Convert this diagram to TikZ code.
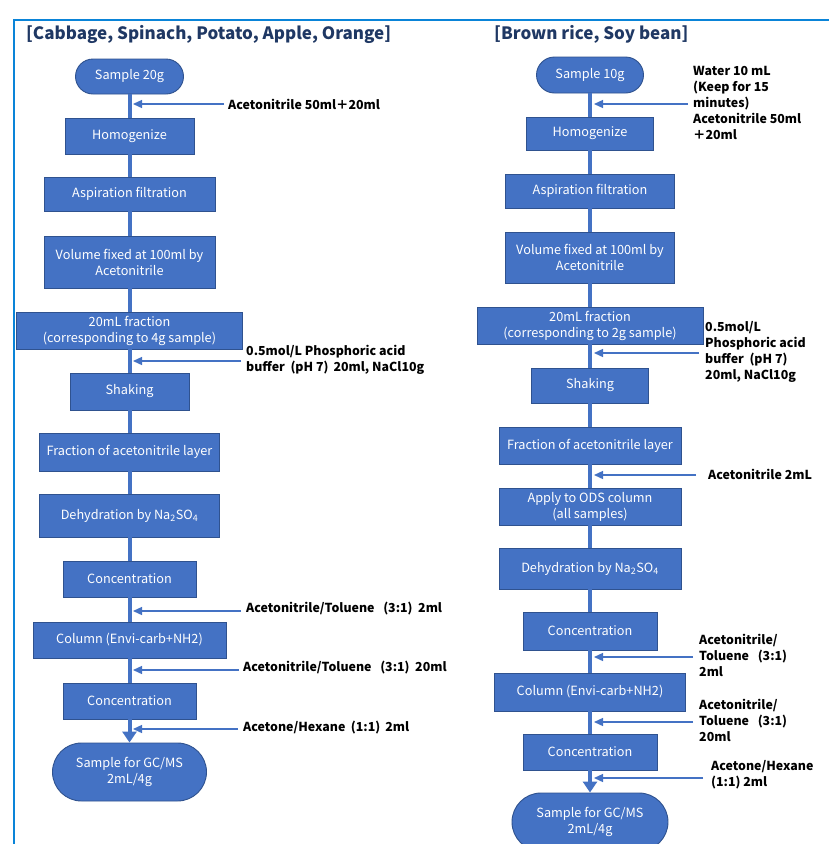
\documentclass[tikz,border=0pt]{standalone}
\usepackage{fontspec}
\setmainfont{Noto Sans CJK JP}
\usetikzlibrary{arrows.meta}
\definecolor{boxfill}{HTML}{4472C4}
\definecolor{boxline}{HTML}{2F528F}
\definecolor{framec}{HTML}{0A84D8}
\definecolor{titlec}{HTML}{1F3864}
\tikzset{
  proc/.style={rectangle, fill=boxfill, draw=boxline, line width=0.9pt, text=white,
    font=\fontsize{12.7}{16}\selectfont, align=center, inner sep=0pt},
  term/.style={proc, rounded corners=#1},
  mainln/.style={draw=boxfill, line width=4pt},
  sideln/.style={draw=boxfill, line width=1.3pt, -{Triangle[width=8pt,length=9pt]}},
  lab/.style={font=\bfseries\fontsize{12.4}{16}\selectfont, anchor=west, align=left, inner sep=0pt, text=black},
  ttl/.style={font=\bfseries\fontsize{17}{22}\selectfont, text=titlec, anchor=west, inner sep=0pt},
}
\begin{document}
\begin{tikzpicture}[x=1pt,y=-1pt]
\useasboundingbox (0,0) rectangle (828,844);
\fill[white] (0,0) rectangle (828,844);
% frame
\draw[framec, line width=2.5pt] (14,850) -- (14,20) -- (830,20);
% titles
\node[ttl] (t1) at (26,34) {[Cabbage, Spinach, Potato, Apple, Orange]};
\node[ttl] (t2) at (494,34) {[Brown rice, Soy bean]};

% ---------- left column ----------
\node[term=17.5pt, minimum width=108, minimum height=35] (L1) at (129.5,76.5) {Sample 20g};
\node[proc, minimum width=129, minimum height=36] (L2) at (129.5,136) {Homogenize};
\node[proc, minimum width=171, minimum height=34] (L3) at (129.5,194) {Aspiration filtration};
\node[proc, minimum width=171, minimum height=52] (L4) at (129.5,262) {Volume fixed at 100ml by\\Acetonitrile};
\node[proc, minimum width=226, minimum height=37] (L5) at (129.5,330.5) {20mL fraction\\(corresponding to 4g sample)};
\node[proc, minimum width=119, minimum height=37] (L6) at (129.5,391.5) {Shaking};
\node[proc, minimum width=180, minimum height=38] (L7) at (129.5,452) {Fraction of acetonitrile layer};
\node[proc, minimum width=180, minimum height=43] (L8) at (129.5,515.5) {Dehydration by Na\textsubscript{2}SO\textsubscript{4}};
\node[proc, minimum width=133, minimum height=36] (L9) at (129.5,579) {Concentration};
\node[proc, minimum width=193, minimum height=36] (L10) at (129.5,640) {Column (Envi-carb+NH2)};
\node[proc, minimum width=133, minimum height=36] (L11) at (129.5,701) {Concentration};
\node[term=29pt, minimum width=154, minimum height=58] (L12) at (129.5,772) {Sample for GC/MS\\2mL/4g};

\foreach \a/\b in {L1/L2,L2/L3,L3/L4,L4/L5,L5/L6,L6/L7,L7/L8,L8/L9,L9/L10,L10/L11}
  \draw[mainln] (\a) -- (\b);
\draw[mainln, -{Triangle[width=14pt,length=11pt]}] (L11) -- (L12);

\coordinate (la1s) at (224,104); \coordinate (la1e) at (133,104);
\coordinate (la2s) at (241,361); \coordinate (la2e) at (133,361);
\coordinate (la3s) at (241,611); \coordinate (la3e) at (133,611);
\coordinate (la4s) at (239,670); \coordinate (la4e) at (133,670);
\coordinate (la5s) at (238,729); \coordinate (la5e) at (133,729);
\foreach \i in {1,...,5} \draw[sideln] (la\i s) -- (la\i e);

\node[lab] (ll1) at (228,104) {Acetonitrile 50ml＋20ml};
\node[lab] (ll2) at (246,360) {0.5mol/L Phosphoric acid\\buffer\hspace{0.45em}(pH 7)\hspace{0.4em}20ml, NaCl10g};
\node[lab] (ll3) at (246,609) {Acetonitrile/Toluene\hspace{0.7em}(3:1)\hspace{0.45em}2ml};
\node[lab] (ll4) at (243,668) {Acetonitrile/Toluene\hspace{0.7em}(3:1)\hspace{0.45em}20ml};
\node[lab] (ll5) at (243,728) {Acetone/Hexane\hspace{0.45em}(1:1)\hspace{0.4em}2ml};

% ---------- right column ----------
\node[term=18pt, minimum width=107, minimum height=36] (R1) at (590,75) {Sample 10g};
\node[proc, minimum width=127, minimum height=33] (R2) at (590,133.5) {Homogenize};
\node[proc, minimum width=169, minimum height=34] (R3) at (590,191) {Aspiration filtration};
\node[proc, minimum width=169, minimum height=51] (R4) at (590,257.5) {Volume fixed at 100ml by\\Acetonitrile};
\node[proc, minimum width=226, minimum height=37] (R5) at (590,325.5) {20mL fraction\\(corresponding to 2g sample)};
\node[proc, minimum width=117, minimum height=35] (R6) at (590,385.5) {Shaking};
\node[proc, minimum width=182, minimum height=37] (R7) at (590,445.5) {Fraction of acetonitrile layer};
\node[proc, minimum width=182, minimum height=37] (R8) at (590,506.5) {Apply to ODS column\\(all samples)};
\node[proc, minimum width=182, minimum height=41] (R9) at (590,568.5) {Dehydration by Na\textsubscript{2}SO\textsubscript{4}};
\node[proc, minimum width=134, minimum height=38] (R10) at (590,631) {Concentration};
\node[proc, minimum width=191, minimum height=38] (R11) at (590,692) {Column (Envi-carb+NH2)};
\node[proc, minimum width=134, minimum height=36] (R12) at (590,752) {Concentration};
\node[term=29pt, minimum width=156, minimum height=58] (R13) at (590,822) {Sample for GC/MS\\2mL/4g};

\foreach \a/\b in {R1/R2,R2/R3,R3/R4,R4/R5,R5/R6,R6/R7,R7/R8,R8/R9,R9/R10,R10/R11,R11/R12}
  \draw[mainln] (\a) -- (\b);
\draw[mainln, -{Triangle[width=14pt,length=11pt]}] (R12) -- (R13);

\coordinate (ra1s) at (688,104); \coordinate (ra1e) at (594,104);
\coordinate (ra2s) at (699,353); \coordinate (ra2e) at (594,353);
\coordinate (ra3s) at (696,475); \coordinate (ra3e) at (594,475);
\coordinate (ra4s) at (693,657); \coordinate (ra4e) at (594,657);
\coordinate (ra5s) at (693,722); \coordinate (ra5e) at (594,722);
\coordinate (ra6s) at (703,778); \coordinate (ra6e) at (594,778);
\foreach \i in {1,...,6} \draw[sideln] (ra\i s) -- (ra\i e);

\node[lab] (rl1) at (693,103) {Water 10 mL\\(Keep for 15\\minutes)\\Acetonitrile 50ml\\＋20ml};
\node[lab] (rl2) at (705,352) {0.5mol/L\\Phosphoric acid\\buffer\hspace{0.45em}(pH 7)\\20ml, NaCl10g};
\node[lab] (rl3) at (708,474) {Acetonitrile 2mL};
\node[lab] (rl4) at (699,655) {Acetonitrile/\\Toluene\hspace{0.7em}(3:1)\\2ml};
\node[lab] (rl5) at (699,720) {Acetonitrile/\\Toluene\hspace{0.7em}(3:1)\\20ml};
\node[lab] (rl6) at (711,775) {Acetone/Hexane\\(1:1) 2ml};
\end{tikzpicture}
\end{document}
